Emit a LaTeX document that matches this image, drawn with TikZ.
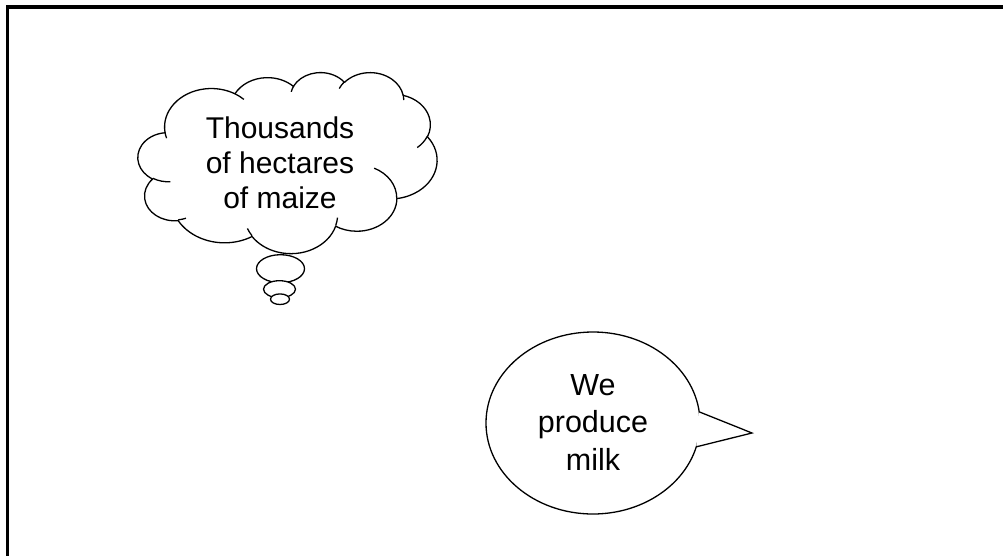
\documentclass[tikz,border=0pt]{standalone}
\usepackage{fontspec}
\setmainfont{Liberation Sans}
\usetikzlibrary{shapes.geometric}
\pgfmathdeclarefunction{vispar}{3}{%
  \pgfmathsetmacro\cldvpd{mod(atan2((#2)*sin(#1),(#3)*cos(#1))-(#1)+720,360)}%
  \pgfmathparse{(#1)+\cldvpd-360*(\cldvpd>180)}%
}
\newcommand\cldsx{0.69213}
\newcommand\cldsy{0.41898}
\newcommand\cldarc[4]{arc[start angle={-vispar(#3,#1,#2)}, end angle={-vispar((#3)+(#4),#1,#2)}, x radius={(#1*\cldsx)*1pt}, y radius={(#2*\cldsy)*1pt}]}
\newcommand\cldpt[2]{({138+(#1)*\cldsx},{72+(#2)*\cldsy})}
\tikzset{
  outline/.style={line width=1.3pt, draw=black, line join=round},
  frameline/.style={line width=3.5pt, draw=black, line join=miter},
  bubbletext/.style={align=center, inner sep=0pt, text=black}
}
\begin{document}
\begin{tikzpicture}[x=1pt, y=-1pt]
\useasboundingbox (0,0) rectangle (1003,555);
\fill[white] (0,0) rectangle (1003,555);
% frame
\coordinate (frameTR) at (1015,7);
\coordinate (frameTL) at (7.5,7);
\coordinate (frameBL) at (7.5,570);
\draw[frameline] (frameTR) -- (frameTL) -- (frameBL);
% cloud
\filldraw[outline, fill=white] \cldpt{39.00}{143.70}
  \cldarc{67.53}{91.90}{-190.48748}{123.78053}
  \cldarc{53.33}{72.67}{-144.10238}{89.94523}
  \cldarc{43.65}{59.45}{-145.80792}{99.72302}
  \cldarc{48.57}{65.95}{-130.98607}{117.24173}
  \cldarc{53.33}{72.73}{-78.70888}{109.02692}
  \cldarc{67.75}{92.20}{-46.26725}{130.26900}
  \cldarc{57.85}{78.67}{0.62502}{114.03333}
  \cldarc{67.52}{92.15}{22.45160}{115.17255}
  \cldarc{77.20}{105.43}{66.24263}{75.71102}
  \cldarc{43.60}{59.18}{-274.94208}{146.73557}
  \cldarc{43.45}{59.45}{-246.82850}{152.51885}
  -- cycle;
\draw[outline]
  \cldpt{46.93}{261.77} \cldarc{43.45}{59.45}{86.74200}{26.42950}
  \cldpt{69.28}{348.99} \cldarc{43.60}{59.18}{73.61047}{11.44747}
  \cldpt{164.78}{390.90} \cldarc{67.52}{92.15}{137.62415}{14.08110}
  \cldpt{288.27}{347.51} \cldarc{67.52}{92.15}{6.45327}{15.99835}
  \cldpt{341.29}{229.54} \cldarc{57.85}{78.67}{-70.29235}{70.91737}
  \cldpt{417.98}{153.54} \cldarc{53.33}{72.73}{30.31803}{27.75150}
  \cldpt{383.24}{54.26} \cldarc{48.57}{65.95}{-13.74433}{14.85890}
  \cldpt{290.78}{39.52} \cldarc{48.57}{65.95}{-149.18145}{18.19537}
  \cldpt{221.41}{47.20} \cldarc{43.65}{59.45}{-163.49427}{17.68635}
  \cldpt{140.00}{51.92} \cldarc{67.53}{91.90}{-66.70695}{12.31935}
  \cldpt{41.27}{157.89} \cldarc{67.53}{91.90}{157.65435}{11.85817};
% thought bubbles
\filldraw[outline, fill=white] (280.5,268.7) ellipse [x radius=24pt, y radius=14pt];
\filldraw[outline, fill=white] (279.5,289.2) ellipse [x radius=16pt, y radius=8.5pt];
\filldraw[outline, fill=white] (280,299.2) ellipse [x radius=9.5pt, y radius=5.3pt];
\node[bubbletext, font={\fontsize{30}{35}\selectfont}] (cloudtext) at (280,163) {Thousands\\of hectares\\of maize};
% speech bubble
\node[ellipse, outline, fill=white, minimum width=214pt, minimum height=182pt, inner sep=0pt, outer sep=0pt] (milk) at (593,423) {};
\coordinate (tip) at (752,433);
\fill[white] (milk.6) -- (tip) -- (milk.-13) -- cycle;
\draw[outline, line join=miter] (milk.6) -- (tip) -- (milk.-13);
\node[bubbletext, font={\fontsize{30.5}{37.5}\selectfont}] (milktext) at (593,422) {We\\produce\\milk};
\end{tikzpicture}
\end{document}
